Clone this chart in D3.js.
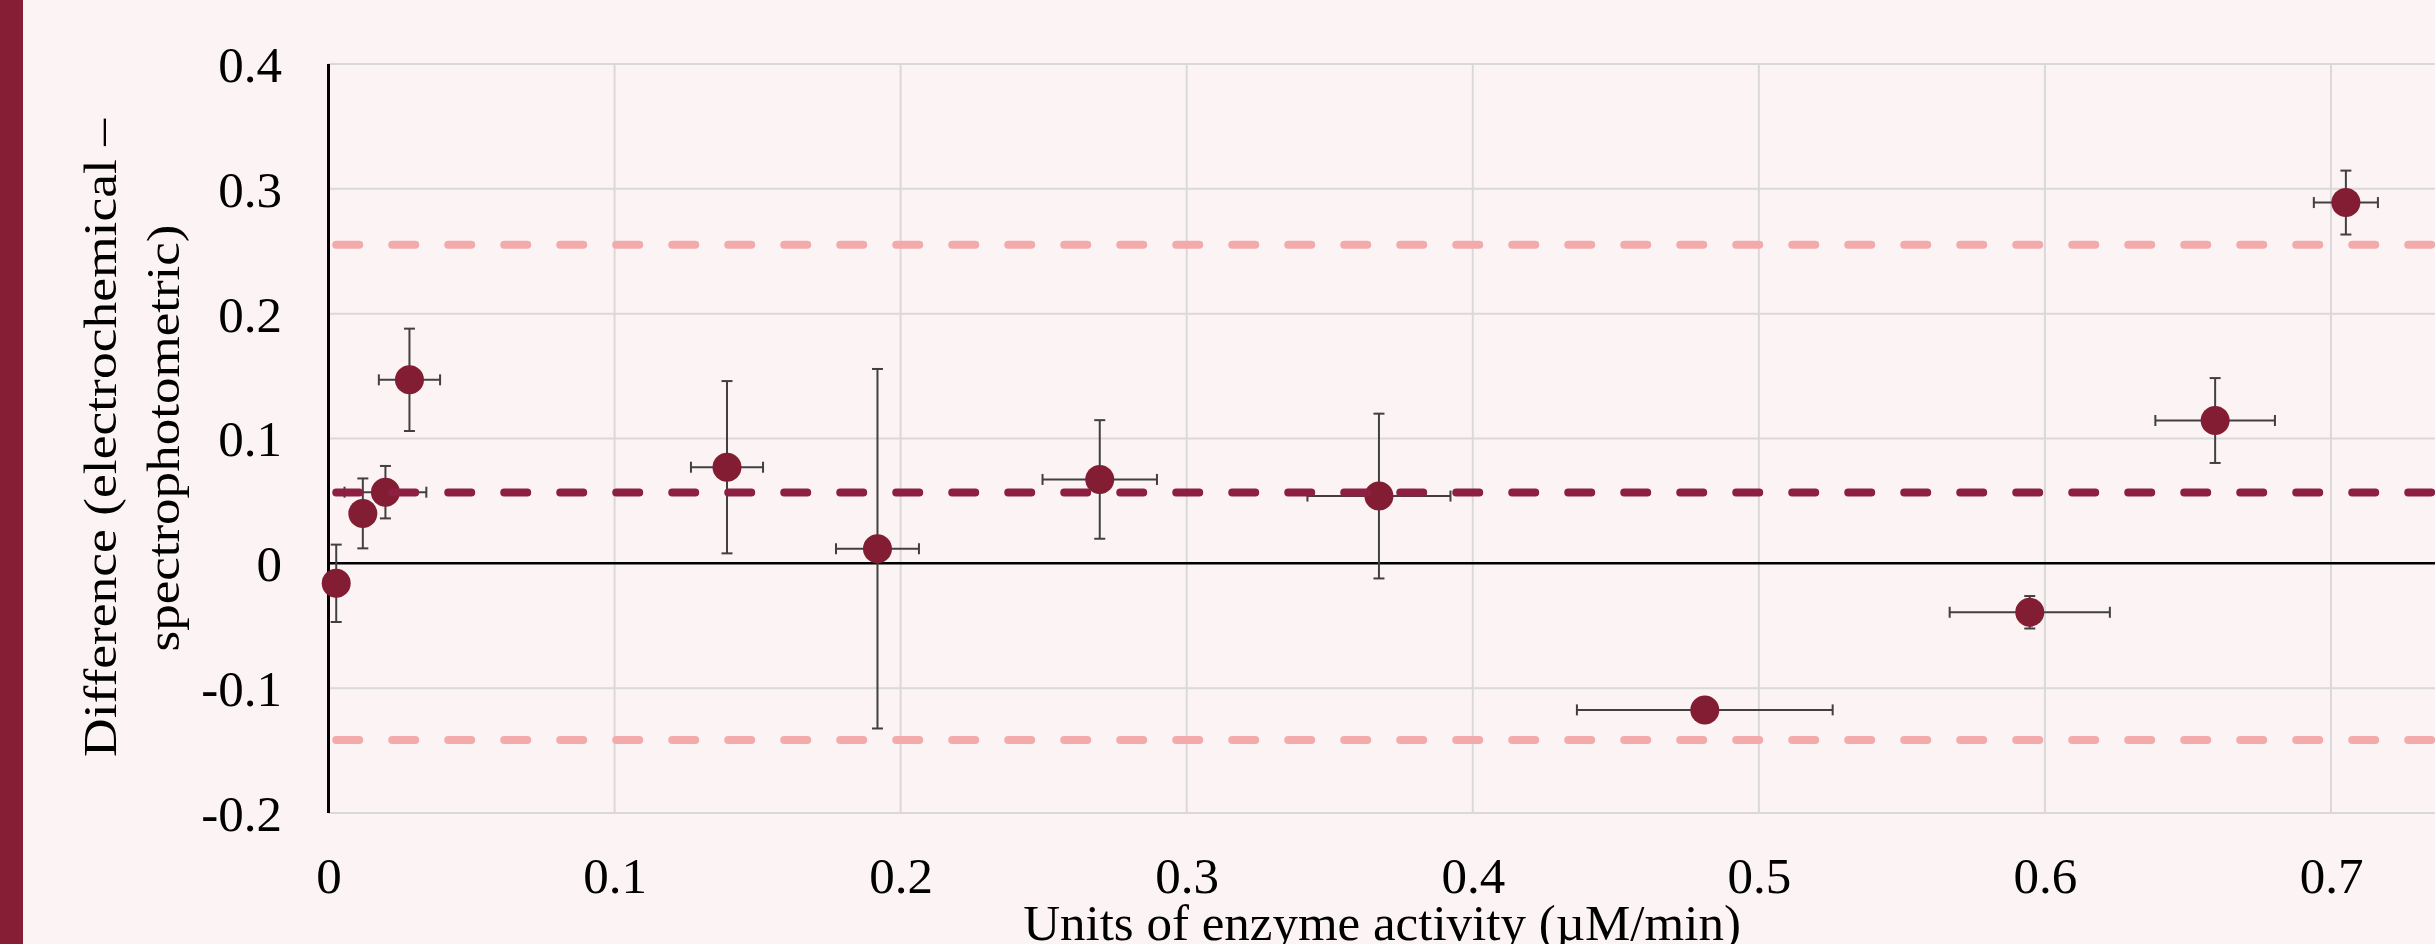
<!DOCTYPE html>
<html>
<head>
<meta charset="utf-8">
<script src="https://cdn.jsdelivr.net/npm/d3@7"></script>
<style>
  body { margin: 0; background: #fcf4f4; }
  svg { display: block; }
</style>
</head>
<body>
<script>

// Bland-Altman style plot: electrochemical vs spectrophotometric enzyme activity

const width = 2435;
const height = 944;

// data
const activity      = [0.0027, 0.012, 0.0199, 0.0283, 0.1393, 0.1919, 0.2696, 0.3672, 0.4811, 0.5947, 0.6595, 0.7052];
const activityError = [0.002, 0.003, 0.0143, 0.0107, 0.0126, 0.0145, 0.020, 0.025, 0.0447, 0.028, 0.0209, 0.0112];
const difference    = [-0.016, 0.040, 0.057, 0.147, 0.077, 0.0117, 0.0672, 0.0539, -0.1174, -0.0392, 0.1144, 0.289];
const diffError     = [0.031, 0.028, 0.021, 0.041, 0.069, 0.144, 0.0475, 0.066, 0.002, 0.013, 0.034, 0.0256];

// mean difference and limits of agreement
const meanDiff = 0.0568;
const upperLimit = 0.2553;
const lowerLimit = -0.1416;

// axis ticks and labels
const xTicks = [0, 0.1, 0.2, 0.3, 0.4, 0.5, 0.6, 0.7];
const xTickLabels = ["0", "0.1", "0.2", "0.3", "0.4", "0.5", "0.6", "0.7"];
const yTicks = [-0.2, -0.1, 0, 0.1, 0.2, 0.3, 0.4];
const yTickLabels = ["-0.2", "-0.1", "0", "0.1", "0.2", "0.3", "0.4"];

const xTitle = "Units of enzyme activity (\u00b5M/min)";
const yTitleLines = ["Difference (electrochemical \u2013", "spectrophotometric)"];

const font = "'Liberation Serif', 'Times New Roman', serif";

const svg = d3.select("body")
  .append("svg")
  .attr("width", width)
  .attr("height", height);

// background + maroon strip on the left
svg.append("rect")
  .attr("width", width)
  .attr("height", height)
  .attr("fill", "#fcf4f4");

svg.append("rect")
  .attr("x", 0)
  .attr("y", 0)
  .attr("width", 23)
  .attr("height", height)
  .attr("fill", "#861e36");

/*
  Scales
*/
let xScale = d3.scaleLinear()
  .domain([0, 0.7])
  .range([328.5, 2331]);

let yScale = d3.scaleLinear()
  .domain([-0.2, 0.4])
  .range([813, 64]);

const x0 = xScale(0);
const xEnd = xScale(0.8);

/*
  Gridlines
*/
svg.append("g")
  .selectAll("line")
  .data(yTicks)
  .enter()
  .append("line")
    .attr("x1", x0)
    .attr("x2", xEnd)
    .attr("y1", d => yScale(d))
    .attr("y2", d => yScale(d))
    .attr("stroke", "#d9d9d9")
    .attr("stroke-width", 2);

svg.append("g")
  .selectAll("line")
  .data(xTicks.slice(1))
  .enter()
  .append("line")
    .attr("x1", d => xScale(d))
    .attr("x2", d => xScale(d))
    .attr("y1", yScale(0.4))
    .attr("y2", yScale(-0.2))
    .attr("stroke", "#d9d9d9")
    .attr("stroke-width", 2);

// zero line and y axis line
svg.append("line")
  .attr("x1", x0)
  .attr("x2", xEnd)
  .attr("y1", yScale(0))
  .attr("y2", yScale(0))
  .attr("stroke", "#000")
  .attr("stroke-width", 2.5);

svg.append("line")
  .attr("x1", x0)
  .attr("x2", x0)
  .attr("y1", yScale(0.4))
  .attr("y2", yScale(-0.2))
  .attr("stroke", "#000")
  .attr("stroke-width", 3);

/*
  Axes (labels only)
*/
const yAxis = svg.append("g")
  .attr("transform", "translate(282, 0)")
  .call(d3.axisLeft(yScale)
          .tickValues(yTicks)
          .tickSize(0)
          .tickPadding(0)
          .tickFormat((d, i) => yTickLabels[i]));
yAxis.select(".domain").remove();
yAxis.selectAll("text")
  .attr("x", 0)
  .attr("dy", "0.34em")
  .attr("fill", "#000")
  .style("font-family", font)
  .style("font-size", "51px");

const xAxis = svg.append("g")
  .attr("transform", `translate(0, ${yScale(-0.2)})`)
  .call(d3.axisBottom(xScale)
          .tickValues(xTicks)
          .tickSize(0)
          .tickFormat((d, i) => xTickLabels[i]));
xAxis.select(".domain").remove();
xAxis.selectAll("text")
  .attr("y", 80)
  .attr("dy", 0)
  .attr("fill", "#000")
  .style("font-family", font)
  .style("font-size", "51px");

// axis titles
svg.append("text")
  .attr("x", 1382)
  .attr("y", 940)
  .attr("text-anchor", "middle")
  .style("font-family", font)
  .style("font-size", "51px")
  .text(xTitle);

const yTitle = svg.append("g")
  .attr("transform", "translate(0, 438) rotate(-90)");
yTitle.selectAll("text")
  .data(yTitleLines)
  .enter()
  .append("text")
    .attr("x", 0)
    .attr("y", (d, i) => i === 0 ? 116 : 179)
    .attr("text-anchor", "middle")
    .attr("textLength", (d, i) => i === 0 ? 638 : 427)
    .attr("lengthAdjust", "spacingAndGlyphs")
    .style("font-family", font)
    .style("font-size", "46px")
    .text(d => d);

/*
  Error bars
*/
const points = activity.map((a, i) => ({
  x: a, y: difference[i], ex: activityError[i], ey: diffError[i]
}));

const cap = 5.5;
const errG = svg.append("g")
  .attr("stroke", "#404040")
  .attr("stroke-width", 2);

points.forEach(p => {
  const cx = xScale(p.x), cy = yScale(p.y);
  const top = yScale(p.y + p.ey), bot = yScale(p.y - p.ey);
  const left = xScale(p.x - p.ex), right = xScale(p.x + p.ex);
  errG.append("line").attr("x1", cx).attr("x2", cx).attr("y1", top).attr("y2", bot);
  errG.append("line").attr("x1", cx - cap).attr("x2", cx + cap).attr("y1", top).attr("y2", top);
  errG.append("line").attr("x1", cx - cap).attr("x2", cx + cap).attr("y1", bot).attr("y2", bot);
  errG.append("line").attr("x1", left).attr("x2", right).attr("y1", cy).attr("y2", cy);
  errG.append("line").attr("x1", left).attr("x2", left).attr("y1", cy - cap).attr("y2", cy + cap);
  errG.append("line").attr("x1", right).attr("x2", right).attr("y1", cy - cap).attr("y2", cy + cap);
});

/*
  Points
*/
svg.selectAll(".dot")
  .data(points)
  .enter()
  .append("circle")
    .attr("class", "dot")
    .attr("cx", d => xScale(d.x))
    .attr("cy", d => yScale(d.y))
    .attr("r", 14.5)
    .attr("fill", "#831d34");

/*
  Mean and limits of agreement
*/
const refLines = [
  {value: upperLimit, color: "#f2aaaa"},
  {value: lowerLimit, color: "#f2aaaa"},
  {value: meanDiff, color: "#8c1f42"}
];

svg.selectAll(".ref")
  .data(refLines)
  .enter()
  .append("line")
    .attr("class", "ref")
    .attr("x1", xScale(activity[0]))
    .attr("x2", xEnd)
    .attr("y1", d => yScale(d.value))
    .attr("y2", d => yScale(d.value))
    .attr("stroke", d => d.color)
    .attr("stroke-width", 8)
    .attr("stroke-linecap", "round")
    .attr("stroke-dasharray", "23,33");

</script>
</body>
</html>
